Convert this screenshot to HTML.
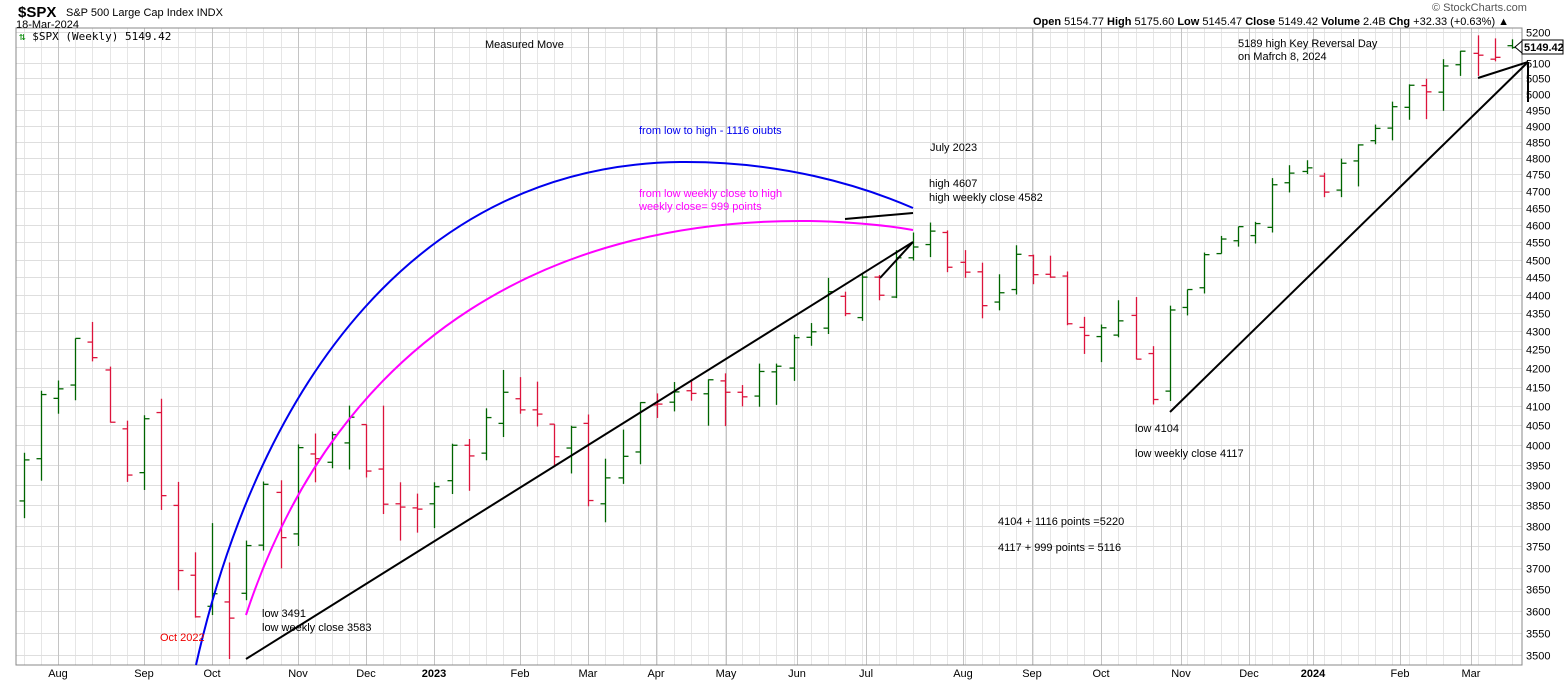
<!DOCTYPE html>
<html><head><meta charset="utf-8"><style>
body{margin:0;background:#fff;width:1565px;height:681px;overflow:hidden;font-family:"Liberation Sans",sans-serif}
svg text{font-family:"Liberation Sans",sans-serif;font-size:11px;fill:#000}
</style></head><body>
<svg id="c" width="1565" height="681" xmlns="http://www.w3.org/2000/svg">
<rect x="0" y="0" width="1565" height="681" fill="#fff"/>
<g id="grid"></g>
<rect x="16" y="28" width="1506" height="637" fill="none" stroke="#888" stroke-width="1"/>
<g id="bars"></g>
<path d="M196,665 C260,380 420,165 680,162 C780,161 860,185 913,208" fill="none" stroke="#0000ee" stroke-width="2"/>
<path d="M246,615 C340,330 560,218 810,221 C860,222 890,226 913,230" fill="none" stroke="#ff00ff" stroke-width="2"/>
<g stroke="#000" stroke-width="2" fill="none">
<line x1="246" y1="659" x2="913" y2="242"/>
<line x1="845" y1="219" x2="913" y2="213"/>
<line x1="880" y1="278" x2="913" y2="242"/>
<line x1="1170" y1="412" x2="1528" y2="62"/>
<line x1="1478" y1="78" x2="1528" y2="62"/>
<line x1="1528" y1="62" x2="1528" y2="102"/>
</g>
<text x="18" y="17" style="font-size:15px;font-weight:bold">$SPX</text>
<text x="66" y="16">S&amp;P 500 Large Cap Index  INDX</text>
<text x="16" y="28">18-Mar-2024</text>
<text x="19" y="40" style="font-family:'DejaVu Sans Mono',monospace;font-size:11px"><tspan fill="#080">⇅</tspan> $SPX (Weekly) 5149.42</text>
<text x="1432" y="11" style="font-size:11px;fill:#555">© StockCharts.com</text>
<text x="1033" y="25"><tspan font-weight="bold">Open</tspan> 5154.77 <tspan font-weight="bold">High</tspan> 5175.60 <tspan font-weight="bold">Low</tspan> 5145.47 <tspan font-weight="bold">Close</tspan> 5149.42 <tspan font-weight="bold">Volume</tspan> 2.4B <tspan font-weight="bold">Chg</tspan> +32.33 (+0.63%) ▲</text>
<text x="485" y="48">Measured Move</text>
<text x="639" y="134" fill="#0000ee" style="fill:#0000ee">from low to high - 1116 oiubts</text>
<text x="930" y="151">July 2023</text>
<text x="639" y="197" style="fill:#ff00ff">from low weekly close to high</text>
<text x="639" y="210" style="fill:#ff00ff">weekly close= 999 points</text>
<text x="929" y="187">high 4607</text>
<text x="929" y="201">high weekly close 4582</text>
<text x="1238" y="47">5189  high Key Reversal Day</text>
<text x="1238" y="60">on Mafrch 8, 2024</text>
<text x="1135" y="432">low 4104</text>
<text x="1135" y="457">low weekly close 4117</text>
<text x="998" y="525">4104 + 1116 points =5220</text>
<text x="998" y="551">4117 + 999 points = 5116</text>
<text x="262" y="617">low 3491</text>
<text x="262" y="631">low weekly close 3583</text>
<text x="160" y="641" style="fill:#e00">Oct 2022</text>
<rect x="1522" y="40" width="41" height="14" fill="#fff" stroke="#000"/>
<path d="M1515,47 L1522,41 L1522,53 Z" fill="#fff" stroke="#000"/>
<text x="1524" y="51" style="font-weight:bold;font-size:11px">5149.42</text>
</svg>
<script>
const d=`3860 3980 3818 3962
3965 4140 3910 4130
4120 4167 4080 4145
4155 4280 4115 4280
4270 4325 4218 4228
4195 4204 4057 4058
4041 4062 3907 3924
3930 4076 3887 4067
4083 4119 3838 3873
3849 3907 3647 3693
3682 3736 3584 3586
3610 3806 3590 3639
3620 3712 3491 3583
3640 3764 3624 3752
3753 3908 3740 3901
3881 3911 3698 3771
3780 4001 3751 3993
3977 4029 3906 3965
3956 4034 3941 4026
4005 4101 3938 4071
4052 4052 3918 3934
3939 4101 3828 3852
3853 3906 3764 3845
3843 3878 3783 3840
3853 3906 3794 3895
3910 4003 3877 3999
3999 4015 3885 3972
3979 4094 3961 4070
4055 4195 4020 4136
4119 4176 4080 4090
4090 4164 4047 4079
4053 4053 3944 3970
3992 4049 3928 4045
4055 4078 3847 3861
3853 3965 3808 3917
3917 4039 3902 3971
3982 4110 3951 4109
4103 4133 4069 4105
4110 4163 4086 4137
4140 4170 4114 4133
4132 4170 4049 4169
4166 4186 4048 4136
4136 4155 4099 4124
4126 4212 4098 4191
4190 4212 4103 4205
4200 4290 4166 4282
4283 4322 4260 4298
4308 4448 4292 4409
4396 4409 4341 4348
4337 4458 4328 4450
4450 4456 4385 4399
4394 4527 4391 4505
4505 4578 4497 4536
4543 4607 4507 4582
4578 4584 4464 4478
4492 4527 4448 4464
4465 4491 4335 4370
4380 4458 4357 4406
4415 4541 4401 4515
4511 4514 4430 4457
4458 4511 4448 4450
4453 4466 4316 4320
4310 4339 4238 4288
4285 4318 4216 4309
4289 4385 4283 4328
4343 4394 4223 4224
4239 4259 4104 4117
4139 4370 4113 4358
4365 4415 4343 4415
4420 4520 4404 4514
4517 4568 4517 4559
4554 4595 4537 4595
4569 4609 4546 4604
4593 4739 4578 4719
4725 4778 4696 4754
4759 4793 4751 4770
4745 4755 4682 4697
4703 4798 4682 4784
4791 4842 4714 4840
4853 4903 4842 4891
4892 4975 4854 4959
4957 5030 4918 5027
5026 5048 4920 5006
5005 5111 4946 5089
5093 5138 5057 5137
5130 5189 5057 5124
5111 5179 5104 5117
5155 5176 5145 5149`.trim().split('\n').map(l=>l.trim().split(/\s+/).map(Number));
const NS="http://www.w3.org/2000/svg";
const Y=p=>655-1573.6*Math.log(p/3500);
const X=i=>24+i*17.1;
const g=document.getElementById('grid'),b=document.getElementById('bars');
function el(p,tag,a,t){const e=document.createElementNS(NS,tag);for(const k in a)e.setAttribute(k,a[k]);if(t)e.textContent=t;p.appendChild(e);return e;}
for(let i=0;i<d.length;i++){const x=Math.round(X(i))+0.5;el(g,'line',{x1:x,x2:x,y1:28,y2:665,stroke:'#e6e6e6'});}
for(let p=3500;p<=5200;p+=50){const y=Math.round(Y(p))+0.5;el(g,'line',{x1:16,x2:1522,y1:y,y2:y,stroke:'#dedede'});
el(g,'text',{x:1526,y:y+4},String(p));}
const months=[[58,'Aug'],[144,'Sep'],[212,'Oct'],[298,'Nov'],[366,'Dec'],[434,'2023',1],[520,'Feb'],[588,'Mar'],[656,'Apr'],[726,'May'],[797,'Jun'],[866,'Jul'],[963,'Aug'],[1032,'Sep'],[1101,'Oct'],[1181,'Nov'],[1249,'Dec'],[1313,'2024',1],[1400,'Feb'],[1471,'Mar']];
months.forEach(m=>{const x=m[0]+0.5;el(g,'line',{x1:x,x2:x,y1:28,y2:665,stroke:'#c4c4c4'});
const t=el(g,'text',{x:m[0],y:677,'text-anchor':'middle'},m[1]);if(m[2])t.setAttribute('font-weight','bold');});
let prev=0;
d.forEach((r,i)=>{const[o,h,l,c]=r;const col=(i==0||c>=prev)?'#006400':'#dc143c';prev=c;const x=Math.round(X(i))+0.5;
el(b,'line',{x1:x,x2:x,y1:Y(h),y2:Y(l),stroke:col,'stroke-width':1.3});
el(b,'line',{x1:x-5,x2:x,y1:Y(o),y2:Y(o),stroke:col,'stroke-width':1.3});
el(b,'line',{x1:x,x2:x+5,y1:Y(c),y2:Y(c),stroke:col,'stroke-width':1.3});});
</script>
</body></html>
